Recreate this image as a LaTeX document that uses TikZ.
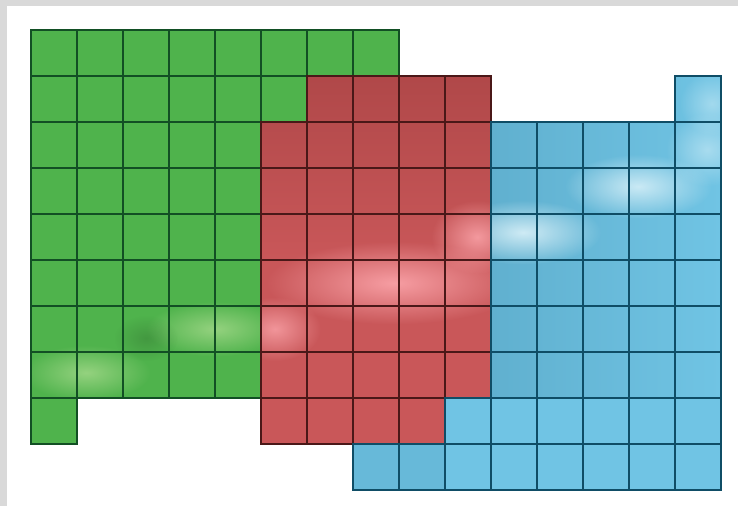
\documentclass[tikz,border=0pt]{standalone}
\usetikzlibrary{fadings}
\definecolor{bgGrey}{HTML}{D9D9D9}
\definecolor{gFill}{HTML}{4FB34C}
\definecolor{gGlow}{HTML}{A6DA8C}
\definecolor{gLine}{HTML}{124F24}
\definecolor{rFill}{HTML}{C95759}
\definecolor{rDark}{HTML}{B04849}
\definecolor{rGlow}{HTML}{FFAAB0}
\definecolor{rLine}{HTML}{4A1818}
\definecolor{bFill}{HTML}{70C4E4}
\definecolor{bDark}{HTML}{60B0CF}
\definecolor{bGlow}{HTML}{E2F5FB}
\definecolor{bLine}{HTML}{0F4D66}
\tikzfading[name=softglow, inner color=transparent!0, outer color=transparent!100]
\tikzset{
  cellline/.style={line width=1.1pt},
  glow/.style={path fading=softglow},
}
\begin{document}
\begin{tikzpicture}[x=1pt,y=-1pt]
\fill[bgGrey] (0,0) rectangle (738,506);
\fill[white] (7,6) rectangle (738,506);
\useasboundingbox (0,0) rectangle (738,506);
\begin{scope}[shift={(31pt,-30pt)}, x=46pt, y=-46pt]
  % ---------- green ----------
  \begin{scope}
    \clip (0,0) -- (8,0) -- (8,1) -- (6,1) -- (6,2) -- (5,2) -- (5,8) -- (1,8) -- (1,9) -- (0,9) -- cycle;
    \fill[gFill] (0,0) rectangle (8,9);
    \fill[glow, gGlow, fill opacity=0.8] (1.2,7.45) ellipse (1.4 and 0.6);
    \fill[glow, gGlow, fill opacity=0.8] (4.0,6.5) ellipse (1.5 and 0.6);
    \fill[black, path fading=softglow, fill opacity=0.15] (2.5,6.7) ellipse (0.7 and 0.5);
  \end{scope}
  % ---------- red ----------
  \begin{scope}
    \clip (6,1) -- (10,1) -- (10,8) -- (9,8) -- (9,9) -- (5,9) -- (5,2) -- (6,2) -- cycle;
    \shade[top color=rDark, bottom color=rFill, middle color=rFill] (5,1) rectangle (10,9);
    \fill[glow, rGlow, fill opacity=0.85] (7.9,5.5) ellipse (2.8 and 0.9);
    \fill[glow, rGlow, fill opacity=0.8] (9.7,4.5) ellipse (1.0 and 0.8);
    \fill[glow, rGlow, fill opacity=0.75] (5.3,6.5) ellipse (1.0 and 0.7);
  \end{scope}
  % ---------- blue ----------
  \begin{scope}
    \clip (14,1) -- (15,1) -- (15,10) -- (7,10) -- (7,9) -- (9,9) -- (9,8) -- (10,8) -- (10,2) -- (14,2) -- cycle;
    \shade[left color=bDark, right color=bFill] (10,1) rectangle (15,10);
    \fill[bFill] (7,8) rectangle (15,10);
    \fill[bDark, fill opacity=0.5] (7,9) rectangle (9,10);
    \fill[glow, bGlow, fill opacity=0.85] (10.7,4.4) ellipse (1.7 and 0.7);
    \fill[glow, bGlow, fill opacity=0.8] (13.2,3.4) ellipse (1.6 and 0.7);
    \fill[glow, bGlow, fill opacity=0.5] (14.7,2.6) ellipse (0.9 and 0.8);
    \fill[glow, bGlow, fill opacity=0.45] (14.8,1.6) ellipse (0.7 and 0.7);
  \end{scope}
  % ---------- grid lines ----------
  \foreach \r/\a/\b in {0/0/7, 1/0/5, 2/0/4, 3/0/4, 4/0/4, 5/0/4, 6/0/4, 7/0/4, 8/0/0}{
    \foreach \c in {\a,...,\b}{ \draw[cellline, gLine] (\c,\r) rectangle ++(1,1); }
  }
  \foreach \r/\a/\b in {1/6/9, 2/5/9, 3/5/9, 4/5/9, 5/5/9, 6/5/9, 7/5/9, 8/5/8}{
    \foreach \c in {\a,...,\b}{ \draw[cellline, rLine] (\c,\r) rectangle ++(1,1); }
  }
  \foreach \r/\a/\b in {1/14/14, 2/10/14, 3/10/14, 4/10/14, 5/10/14, 6/10/14, 7/10/14, 8/9/14, 9/7/14}{
    \foreach \c in {\a,...,\b}{ \draw[cellline, bLine] (\c,\r) rectangle ++(1,1); }
  }
\end{scope}
\end{tikzpicture}
\end{document}
